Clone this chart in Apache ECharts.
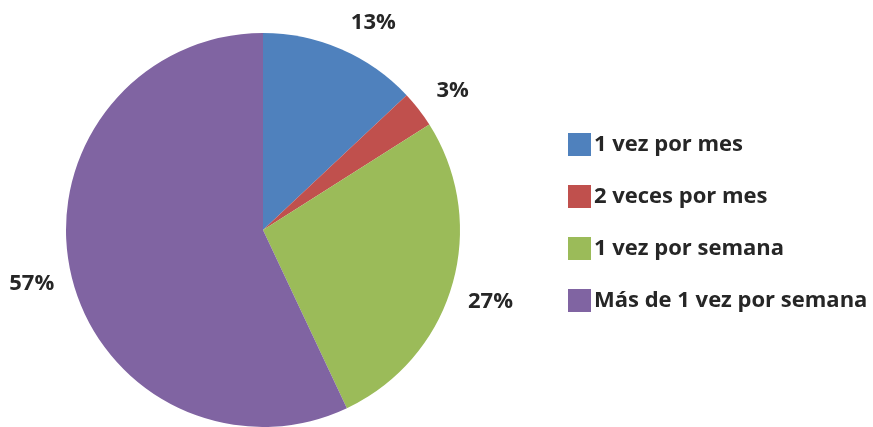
<!DOCTYPE html>
<html>
<head>
<meta charset="utf-8">
<script src="https://cdn.jsdelivr.net/npm/echarts@6/dist/echarts.min.js"></script>
<style>
  html, body { margin: 0; padding: 0; background: #fff; }
  #chart { width: 873px; height: 427px; }
</style>
</head>
<body>
<div id="chart"></div>
<script>
// Datos del gráfico
var categorias = ["1 vez por mes", "2 veces por mes", "1 vez por semana", "Más de 1 vez por semana"];
var valores = [13, 3, 27, 57];
var colores = ["#4F81BD", "#C0504D", "#9BBB59", "#8064A2"];
// pequeños ajustes de las etiquetas respecto a su ángulo medio
var desplazamientos = [[15, 13], [0, 8], [-3, 5], [3, 1]];

var fuente = "Open Sans";
var colorTexto = "#262626";

var datos = categorias.map(function (c, i) {
    return { name: c, value: valores[i], itemStyle: { color: colores[i] } };
});

// Serie invisible solo para colocar las etiquetas fuera del círculo
var datosEtiquetas = categorias.map(function (c, i) {
    return {
        name: c,
        value: valores[i],
        itemStyle: { color: "rgba(0,0,0,0)" },
        label: { offset: desplazamientos[i] }
    };
});

var myChart = echarts.init(document.getElementById("chart"));

var option = {
    backgroundColor: "#fff",
    animation: false,
    legend: {
        orient: "vertical",
        left: 563,
        top: 128,
        itemWidth: 23,
        itemHeight: 23,
        itemGap: 29,
        icon: "rect",
        data: categorias,
        textStyle: { color: colorTexto, fontSize: 22, fontWeight: "bold", fontFamily: fuente, padding: [0, 0, 0, -2] }
    },
    series: [
        {
            type: "pie",
            center: [263, 230],
            radius: [0, 197],
            startAngle: 90,
            clockwise: true,
            data: datos,
            label: { show: false },
            labelLine: { show: false },
            emphasis: { disabled: true }
        },
        {
            type: "pie",
            center: [263, 230],
            radius: [217, 257],
            startAngle: 90,
            clockwise: true,
            silent: true,
            legendHoverLink: false,
            data: datosEtiquetas,
            label: {
                show: true,
                position: "inside",
                formatter: "{c}%",
                color: colorTexto,
                fontSize: 22,
                fontWeight: "bold",
                fontFamily: fuente
            },
            labelLine: { show: false },
            emphasis: { disabled: true }
        }
    ]
};

myChart.setOption(option);
</script>
</body>
</html>
